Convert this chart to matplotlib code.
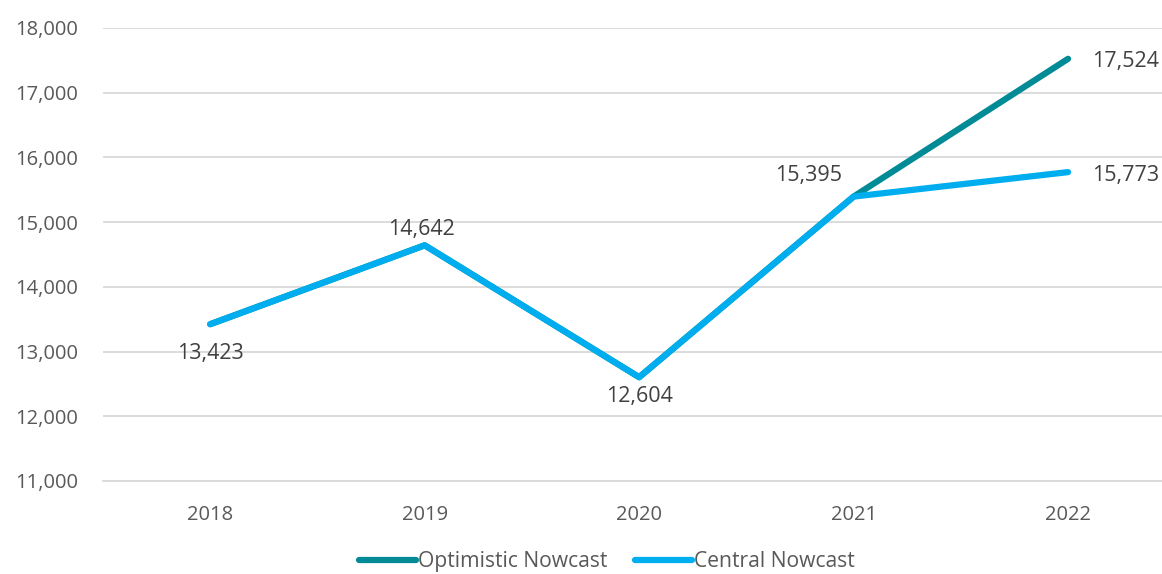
import matplotlib
matplotlib.use("Agg")
import matplotlib.pyplot as plt
from matplotlib.ticker import FuncFormatter

years = ["2018", "2019", "2020", "2021", "2022"]
central = [13423, 14642, 12604, 15395, 15773]
optimistic = [13423, 14642, 12604, 15395, 17524]
yticks = [11000, 12000, 13000, 14000, 15000, 16000, 17000, 18000]

plt.rcParams['font.family'] = ['Open Sans', 'DejaVu Sans']
TXT = '#404040'
fig = plt.figure(figsize=(11.62, 5.74), dpi=100)
ax = fig.add_axes([103/1162, 1-481/574, (1162-103)/1162, (481-28)/574])
x = list(range(len(years)))
ax.plot(x, optimistic, color='#008B96', lw=4.5, solid_capstyle='round', solid_joinstyle='round', label='Optimistic Nowcast', zorder=3)
ax.plot(x, central, color='#00AEEF', lw=4.5, solid_capstyle='round', solid_joinstyle='round', label='Central Nowcast', zorder=4)

ax.set_ylim(11000, 18000)
ax.set_xlim(-0.5, 4.438)
ax.set_yticks(yticks)
ax.yaxis.set_major_formatter(FuncFormatter(lambda v, p: f"{int(v):,}"))
ax.set_xticks(x)
ax.set_xticklabels(years)
ax.grid(axis='y', color='#D9D9D9', lw=1.3)
ax.set_axisbelow(True)
for s in ax.spines.values():
    s.set_visible(False)
ax.spines['bottom'].set_visible(True)
ax.spines['bottom'].set_color('#D9D9D9')
ax.spines['bottom'].set_linewidth(1.3)
ax.tick_params(axis='both', length=0, labelsize=14.5, colors='#595959')
ax.tick_params(axis='y', pad=18)
ax.tick_params(axis='x', pad=17)

fs = 15.5
def lab(i, v, dx, dy, ha='center'):
    ax.annotate(f"{v:,}", (i, v), xytext=(dx, dy), textcoords='offset pixels', ha=ha, va='center', fontsize=fs, color=TXT)

lab(0, central[0], 0, -29)
lab(1, central[1], -3, 16)
lab(2, central[2], 0, -19)
lab(3, central[3], -45, 21)
lab(4, optimistic[4], 24, -3, ha='left')
lab(4, central[4], 24, -3, ha='left')

leg = fig.legend(loc='lower center', bbox_to_anchor=(0.522, -0.03), ncol=2, frameon=False,
                 fontsize=15.2, handlelength=2.7, handletextpad=0.1, columnspacing=1.3)
for t in leg.get_texts():
    t.set_color('#595959')
fig.savefig('out.png', dpi=100)
